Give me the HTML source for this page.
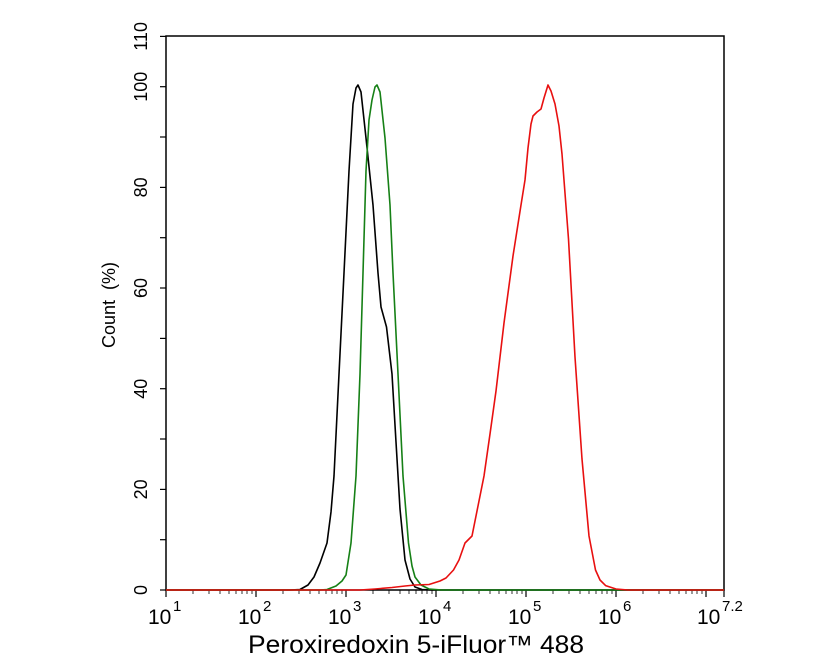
<!DOCTYPE html>
<html><head><style>body{margin:0;background:#fff}svg{display:block}</style></head><body>
<svg width="835" height="668" viewBox="0 0 835 668" xmlns="http://www.w3.org/2000/svg" font-family="Liberation Sans, sans-serif">
<rect x="166" y="36" width="558" height="554" fill="none" stroke="#000" stroke-width="1.5"/>
<g stroke="#000" stroke-width="1.2">
<line x1="160" y1="590" x2="166" y2="590"/><line x1="160" y1="539.7" x2="166" y2="539.7"/><line x1="160" y1="489.4" x2="166" y2="489.4"/><line x1="160" y1="439" x2="166" y2="439"/><line x1="160" y1="388.7" x2="166" y2="388.7"/><line x1="160" y1="338.4" x2="166" y2="338.4"/><line x1="160" y1="288" x2="166" y2="288"/><line x1="160" y1="237.7" x2="166" y2="237.7"/><line x1="160" y1="187.4" x2="166" y2="187.4"/><line x1="160" y1="137" x2="166" y2="137"/><line x1="160" y1="86.7" x2="166" y2="86.7"/><line x1="160" y1="36.4" x2="166" y2="36.4"/>
<line x1="166" y1="590" x2="166" y2="597"/><line x1="256" y1="590" x2="256" y2="597"/><line x1="346" y1="590" x2="346" y2="597"/><line x1="436" y1="590" x2="436" y2="597"/><line x1="526" y1="590" x2="526" y2="597"/><line x1="616" y1="590" x2="616" y2="597"/><line x1="706" y1="590" x2="706" y2="597"/><line x1="724" y1="590" x2="724" y2="597"/>
</g>
<g stroke="#000" stroke-width="0.8">
<path d="M193 590v4M209 590v4M220 590v4M229 590v4M236 590v4M242 590v4M247 590v4M252 590v4M283 590v4M299 590v4M310 590v4M319 590v4M326 590v4M332 590v4M337 590v4M342 590v4M373 590v4M389 590v4M400 590v4M409 590v4M416 590v4M422 590v4M427 590v4M432 590v4M463 590v4M479 590v4M490 590v4M499 590v4M506 590v4M512 590v4M517 590v4M522 590v4M553 590v4M569 590v4M580 590v4M589 590v4M596 590v4M602 590v4M607 590v4M612 590v4M643 590v4M659 590v4M670 590v4M679 590v4M686 590v4M692 590v4M697 590v4M702 590v4"/>
</g>
<g font-size="18" text-anchor="middle">
<text transform="translate(147,590) rotate(-90)">0</text>
<text transform="translate(147,489.4) rotate(-90)">20</text>
<text transform="translate(147,388.7) rotate(-90)">40</text>
<text transform="translate(147,288) rotate(-90)">60</text>
<text transform="translate(147,187.4) rotate(-90)">80</text>
<text transform="translate(147,86.7) rotate(-90)">100</text>
<text transform="translate(147,36.4) rotate(-90)">110</text>
</g>
<text transform="translate(115,305) rotate(-90)" font-size="18" text-anchor="middle" xml:space="preserve">Count  (%)</text>
<g font-size="21">
<text x="148" y="624">10</text><text x="173" y="611" font-size="15">1</text>
<text x="238" y="624">10</text><text x="263" y="611" font-size="15">2</text>
<text x="328" y="624">10</text><text x="353" y="611" font-size="15">3</text>
<text x="418" y="624">10</text><text x="443" y="611" font-size="15">4</text>
<text x="508" y="624">10</text><text x="533" y="611" font-size="15">5</text>
<text x="598" y="624">10</text><text x="623" y="611" font-size="15">6</text>
<text x="697" y="624">10</text><text x="722" y="611" font-size="15">7.2</text>
</g>
<text x="416" y="653" font-size="25" text-anchor="middle" textLength="336" lengthAdjust="spacingAndGlyphs">Peroxiredoxin 5-iFluor™ 488</text>
<g fill="none" stroke-width="1.6" stroke-linejoin="round">
<path stroke="#000" d="M166 590 L290 590 L300 589.5 L308 585 L314 577 L320 563 L327 543 L331 512 L334 476 L339 374 L344 273 L349 171 L353 104 L356 88 L358 85 L361 92 L366 138 L373 205 L378 273 L381 307 L386.5 327 L392 374 L396 442 L400 509 L405 560 L410 579 L415 587 L422 589.5 L432 590 L724 590"/>
<path stroke="#168016" d="M166 590 L320 590 L327 589.5 L336 586 L342 581 L346 575 L351 543 L356 476 L360 374 L363 273 L366 171 L369 120 L372 100 L375 87 L377 85 L380 92 L385 138 L390 205 L393 273 L398 374 L403 476 L408.5 543 L412 566 L415 577 L421 585 L429 589 L442 590 L724 590"/>
<path stroke="#e81010" d="M166 590 L360 590 L375 589 L392 587.5 L405 586 L415 585 L429 584.5 L440 581 L446 578 L453.5 570 L459 560 L465 543 L472 536 L478 506 L484 476 L490 434 L496 391 L504 323 L513 256 L521 205 L525 180 L528 148 L531 124 L533 116 L537 112 L541 109 L544 98 L548 85 L551 91 L555 104 L559 126 L562 154 L568.5 239 L575 357 L582 459 L589 536 L595.5 570 L600 580 L605.6 585.6 L616 589 L628 590 L724 590"/>
</g>
</svg>
</body></html>
